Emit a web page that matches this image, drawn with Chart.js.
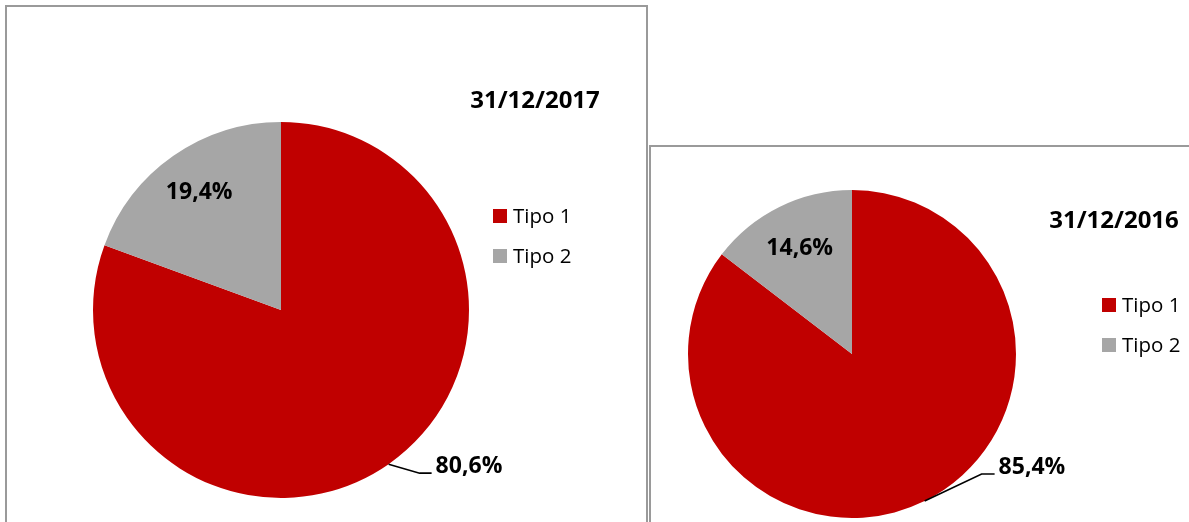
<!DOCTYPE html>
<html>
<head>
<meta charset="utf-8">
<script src="https://cdn.jsdelivr.net/npm/chart.js@4.4.1/dist/chart.umd.min.js"></script>
<style>
  html, body { margin: 0; padding: 0; background: #fff; width: 1189px; height: 522px; overflow: hidden; }
  .box { position: absolute; border: 2px solid #9a9a9a; box-sizing: border-box; background: #fff; }
  canvas { position: absolute; }
</style>
</head>
<body>
<div class="box" style="left:5px; top:5px; width:643px; height:600px;"></div>
<div class="box" style="left:649px; top:145px; width:600px; height:500px;"></div>
<canvas id="c1" width="638" height="515" style="left:7px; top:7px;"></canvas>
<canvas id="c2" width="538" height="375" style="left:651px; top:147px;"></canvas>
<script>
// ---- data ----
const categories = ['Tipo 1', 'Tipo 2'];
const values2017 = [80.6, 19.4];
const values2016 = [85.4, 14.6];
const titles = ['31/12/2017', '31/12/2016'];
const colors = ['#C00000', '#A6A6A6'];

function fmt(v) { return v.toFixed(1).replace('.', ',') + '%'; }

function makePlugin(cfg) {
  return {
    id: 'decor',
    afterDraw(chart) {
      const ctx = chart.ctx;
      const meta = chart.getDatasetMeta(0);
      const data = chart.data.datasets[0].data;
      ctx.save();
      // title
      ctx.fillStyle = '#000';
      ctx.font = 'bold 24px "Open Sans"';
      ctx.textAlign = 'center';
      ctx.textBaseline = 'middle';
      ctx.fillText(cfg.title, cfg.titleX, cfg.titleY);
      // legend
      ctx.font = '20.5px "Open Sans"';
      ctx.textAlign = 'left';
      ctx.textBaseline = 'alphabetic';
      categories.forEach((c, i) => {
        const y = cfg.legY + i * cfg.legGap;
        ctx.fillStyle = colors[i];
        ctx.fillRect(cfg.legX, y - 14, 14, 14);
        ctx.fillStyle = '#000';
        ctx.fillText(c, cfg.legX + 20, y);
      });
      // labels
      ctx.font = 'bold 23px "Open Sans"';
      ctx.textBaseline = 'middle';
      meta.data.forEach((arc, i) => {
        const p = arc.getProps(['x', 'y', 'startAngle', 'endAngle', 'outerRadius'], true);
        const mid = (p.startAngle + p.endAngle) / 2;
        if (i === 1) {
          const r = p.outerRadius * cfg.inFrac;
          ctx.textAlign = 'center';
          ctx.fillStyle = '#000';
          ctx.fillText(fmt(data[i]), p.x + Math.cos(mid) * r, p.y + Math.sin(mid) * r);
        } else {
          const ex = p.x + Math.cos(mid) * p.outerRadius;
          const ey = p.y + Math.sin(mid) * p.outerRadius;
          const bx = ex + cfg.elbow[0], by = ey + cfg.elbow[1];
          const hx = bx + cfg.hLen;
          ctx.strokeStyle = '#000';
          ctx.lineWidth = 1.6;
          ctx.beginPath();
          ctx.moveTo(ex, ey); ctx.lineTo(bx, by); ctx.lineTo(hx, by);
          ctx.stroke();
          ctx.textAlign = 'left';
          ctx.fillStyle = '#000';
          ctx.fillText(fmt(data[i]), hx + 4, by - 7);
        }
      });
      ctx.restore();
    }
  };
}

function makeChart(id, values, padding, cfg) {
  return new Chart(document.getElementById(id), {
    type: 'pie',
    data: {
      labels: categories,
      datasets: [{ data: values, backgroundColor: colors, borderWidth: 0 }]
    },
    options: {
      responsive: false,
      devicePixelRatio: 1,
      animation: false,
      rotation: 0,
      layout: { padding: padding },
      plugins: { legend: { display: false }, tooltip: { enabled: false }, title: { display: false } }
    },
    plugins: [makePlugin(cfg)]
  });
}

makeChart('c1', values2017, { left: 86, right: 176, top: 115, bottom: 24 }, {
  title: titles[0], titleX: 528, titleY: 94,
  legX: 486, legY: 216, legGap: 40,
  inFrac: 0.76, elbow: [31, 9], hLen: 12
});
makeChart('c2', values2016, { left: 37, right: 173, top: 43, bottom: 4 }, {
  title: titles[1], titleX: 463, titleY: 74,
  legX: 451, legY: 165, legGap: 40,
  inFrac: 0.72, elbow: [57, -27], hLen: 13
});
</script>
</body>
</html>
